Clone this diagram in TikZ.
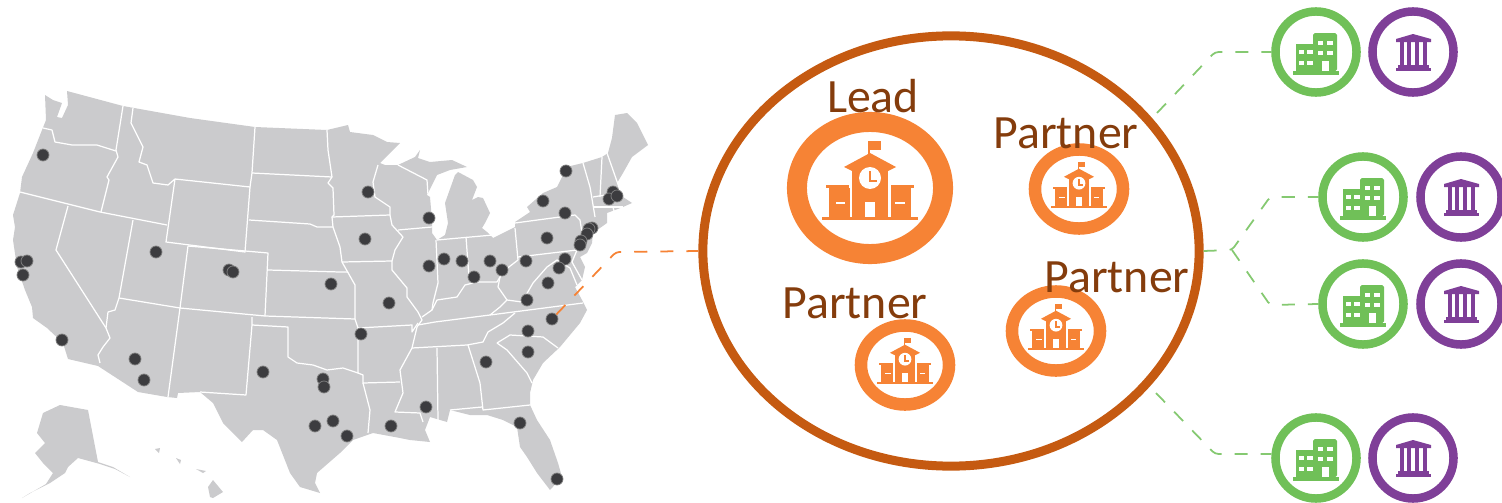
\documentclass[tikz,border=0pt]{standalone}
\usepackage{fontspec}
\setmainfont{Carlito}
\usetikzlibrary{shapes.geometric}
\definecolor{mapgrey}{HTML}{CBCBCD}
\definecolor{dotgrey}{HTML}{3C3C3F}
\definecolor{clusterbrown}{HTML}{C55A11}
\definecolor{labelbrown}{HTML}{843C0C}
\definecolor{schoolorange}{HTML}{F68335}
\definecolor{officegreen}{HTML}{70C058}
\definecolor{bankpurple}{HTML}{7F3F98}
\tikzset{
  dot/.style={circle,fill=dotgrey,draw=gray,line width=0.2pt,minimum size=0.12cm,inner sep=0pt},
  border/.style={draw=white,line width=0.35pt,line join=round},
  schoolring/.style={draw=schoolorange,ellipse,inner sep=0pt,minimum width=0.88cm,minimum height=0.79cm,line width=0.125cm},
  leadring/.style={draw=schoolorange,ellipse,inner sep=0pt,minimum width=1.46cm,minimum height=1.32cm,line width=0.2cm},
  officering/.style={draw=officegreen,circle,inner sep=0pt,minimum size=0.81cm,line width=0.085cm},
  bankring/.style={draw=bankpurple,circle,inner sep=0pt,minimum size=0.81cm,line width=0.085cm},
  greenlink/.style={draw=officegreen!85!white,line width=0.5pt,dash pattern=on 3.7pt off 3.7pt,rounded corners=1pt},
  orangelink/.style={draw=schoolorange,line width=0.5pt,dash pattern=on 3.7pt off 3.7pt,rounded corners=1pt},
  tag/.style={text=labelbrown,anchor=base,inner sep=0pt,font=\fontsize{13.6}{16}\selectfont},
  school/.pic={
    \fill[schoolorange] (-48,29) rectangle (48,32);
    \fill[schoolorange] (-41,0) rectangle (-20,29);
    \fill[schoolorange] (-44,-3) -- (-21,-3) -- (-21,0) -- (-44,0) -- cycle;
    \fill[schoolorange] (21,-3) -- (44,-3) -- (44,0) -- (21,0) -- cycle;
    \fill[schoolorange] (21,0) rectangle (41,29);
    \fill[schoolorange] (-18,-20) rectangle (18,29);
    \fill[schoolorange] (-26,-21) -- (0,-35) -- (26,-21) -- (18,-17) -- (-18,-17) -- cycle;
    \fill[schoolorange] (-2,-47) rectangle (0,-33);
    \fill[schoolorange] (-2,-47) rectangle (11,-38);
    \fill[white] (0,-10) circle (11);
    \fill[schoolorange] (-1,-17) rectangle (1,-8);
    \fill[schoolorange] (-1,-8) rectangle (7,-6);
    \fill[white] (-5,14) rectangle (5,29);
    \fill[white] (-34,14) rectangle (-25,16);
    \fill[white] (25,14) rectangle (35,16);
  },
  office/.pic={
    \fill[officegreen] (-20,-8) rectangle (-1,19);
    \fill[officegreen,rounded corners=0.5pt] (-3,-19) rectangle (21,19);
    \fill[officegreen] (-23,19) rectangle (23,23);
    \fill[white] (-17,-2) rectangle (-12,2);
    \fill[white] (-9,-2) rectangle (-3,2);
    \fill[white] (-17,9) rectangle (-12,13);
    \fill[white] (-9,9) rectangle (-3,13);
    \fill[white] (2,-11) rectangle (7,-7);
    \fill[white] (11,-11) rectangle (17,-7);
    \fill[white] (2,-1) rectangle (7,3);
    \fill[white] (11,-1) rectangle (17,3);
    \fill[white] (6,9) rectangle (13,19);
  },
  bank/.pic={
    \fill[bankpurple] (-17,-13) -- (0,-18) -- (18,-13) -- (18,-10) -- (-17,-10) -- cycle;
    \fill[bankpurple] (-13,-10) rectangle (-9,15);
    \fill[bankpurple] (-6,-10) rectangle (-2,15);
    \fill[bankpurple] (2,-10) rectangle (6,15);
    \fill[bankpurple] (10,-10) rectangle (14,15);
    \fill[bankpurple] (-15,13) rectangle (16,16);
    \fill[bankpurple] (-17,16) rectangle (18,19);
  }
}
\begin{document}
\begin{tikzpicture}[x=0.01cm,y=-0.01cm]
\useasboundingbox (0,0) rectangle (1502,503);

\fill[mapgrey] (45,95) -- (53,100) -- (62,103) -- (57,117) -- (62,118) -- (68,105) -- (67,91) -- (123,106) -- (190,118) -- (255,127) -- (327,130) -- (348,125) -- (350,132) -- (373,135) -- (387,142) -- (400,143) -- (380,163) -- (385,165) -- (398,165) -- (415,157) -- (420,150) -- (418,158) -- (430,162) -- (452,160) -- (467,167) -- (450,170) -- (437,175) -- (427,195) -- (430,197) -- (432,220) -- (432,233) -- (437,240) -- (445,235) -- (448,223) -- (445,203) -- (455,175) -- (458,172) -- (473,180) -- (477,187) -- (472,200) -- (478,197) -- (483,198) -- (490,213) -- (485,223) -- (482,228) -- (487,232) -- (493,238) -- (503,233) -- (515,227) -- (515,222) -- (530,212) -- (527,207) -- (543,193) -- (557,187) -- (562,177) -- (562,168) -- (583,163) -- (602,157) -- (608,153) -- (612,138) -- (615,115) -- (627,113) -- (637,123) -- (648,145) -- (632,157) -- (623,173) -- (617,183) -- (623,197) -- (632,203) -- (623,207) -- (607,213) -- (607,223) -- (593,233) -- (592,243) -- (587,253) -- (580,257) -- (585,267) -- (582,280) -- (575,287) -- (582,300) -- (587,310) -- (580,323) -- (560,347) -- (543,363) -- (533,380) -- (530,393) -- (530,405) -- (537,420) -- (550,440) -- (558,463) -- (562,477) -- (550,490) -- (537,473) -- (527,457) -- (520,447) -- (517,427) -- (503,420) -- (487,415) -- (470,415) -- (450,410) -- (447,422) -- (430,417) -- (425,430) -- (430,442) -- (410,440) -- (400,438) -- (373,433) -- (353,440) -- (340,453) -- (317,473) -- (315,483) -- (320,493) -- (300,487) -- (290,473) -- (277,440) -- (263,430) -- (253,430) -- (242,442) -- (223,423) -- (213,403) -- (200,392) -- (178,393) -- (177,398) -- (167,397) -- (138,392) -- (98,366) -- (68,359) -- (63,343) -- (47,328) -- (33,318) -- (32,307) -- (25,290) -- (17,267) -- (13,240) -- (15,227) -- (13,215) -- (20,193) -- (22,177) -- (33,153) -- (42,130) -- (46,120) -- cycle;
\fill[mapgrey] (43,413) -- (60,405) -- (88,410) -- (98,462) -- (113,467) -- (130,477) -- (115,469) -- (100,464) -- (78,458) -- (68,467) -- (65,473) -- (50,483) -- (30,493) -- (22,498) -- (46,484) -- (53,473) -- (43,463) -- (35,453) -- (45,443) -- (37,433) -- cycle;
\fill[mapgrey] (208,487) -- (213,480) -- (223,492) -- (213,498) -- (210,497) -- cycle;
\fill[mapgrey] (155,449) -- (160,448) -- (159,453) -- cycle;
\fill[mapgrey] (176,458) -- (181,460) -- (180,464) -- cycle;
\fill[mapgrey] (196,469) -- (206,471) -- (203,473) -- cycle;

\path[border] (43,128) -- (52,130) -- (55,142) -- (72,145) -- (97,145) -- (116,151);
\path[border] (123,106) -- (116,150) -- (118,157) -- (107,177) -- (109,180) -- (101,212);
\path[border] (20,192) -- (100,212) -- (167,225);
\path[border] (68,206) -- (56,250) -- (106,328);
\path[border] (133,220) -- (119,298) -- (115,310) -- (108,312) -- (106,328) -- (110,338) -- (103,347) -- (98,355) -- (100,363);
\path[border] (133,108) -- (131,123) -- (143,147) -- (139,162) -- (147,165) -- (153,183) -- (168,185) -- (175,179);
\path[border] (175,179) -- (250,187) -- (245,252) -- (166,242) -- (175,179);
\path[border] (255,127) -- (252,173) -- (250,187);
\path[border] (252,173) -- (332,177);
\path[border] (249,220) -- (310,224) -- (317,227) -- (333,227);
\path[border] (327,130) -- (328,150) -- (332,177) -- (328,183) -- (333,188) -- (334,215) -- (332,217) -- (333,227) -- (340,247) -- (342,262);
\path[border] (188,246) -- (268,253) -- (265,316);
\path[border] (188,246) -- (180,308) -- (168,397);
\path[border] (119,298) -- (180,308) -- (265,316) -- (355,319);
\path[border] (268,270) -- (340,272) -- (348,272);
\path[border] (252,317) -- (252,325) -- (246,395) -- (200,392);
\path[border] (252,325) -- (288,327) -- (288,357) -- (297,363) -- (313,365) -- (327,370) -- (343,368) -- (358,373);
\path[border] (332,217) -- (390,215);
\path[border] (342,262) -- (392,261);
\path[border] (342,262) -- (355,285) -- (355,319) -- (358,328) -- (412,325) -- (412,332) -- (418,323);
\path[border] (392,261) -- (392,270) -- (407,288) -- (407,297) -- (418,312) -- (422,320) -- (417,327) -- (412,348) -- (400,370) -- (403,393) -- (395,412) -- (420,413) -- (423,422);
\path[border] (390,215) -- (392,225) -- (403,237) -- (395,250) -- (392,261);
\path[border] (378,165) -- (373,182) -- (375,197) -- (390,207) -- (390,215);
\path[border] (398,230) -- (432,227);
\path[border] (398,165) -- (427,180) -- (428,195);
\path[border] (436,240) -- (438,283) -- (433,303) -- (432,310);
\path[border] (466,237) -- (469,277);
\path[border] (437,240) -- (493,235);
\path[border] (422,317) -- (432,310) -- (437,300) -- (457,297) -- (465,285) -- (477,282) -- (497,282) -- (500,277) -- (505,270) -- (518,260);
\path[border] (515,228) -- (518,260);
\path[border] (498,287) -- (507,300) -- (500,307) -- (490,315);
\path[border] (500,277) -- (498,287);
\path[border] (507,300) -- (522,302) -- (533,283) -- (547,267) -- (557,260) -- (570,268) -- (577,285);
\path[border] (518,257) -- (577,250) -- (572,262) -- (582,280);
\path[border] (515,223) -- (575,215) -- (580,220) -- (582,233) -- (577,250);
\path[border] (418,325) -- (435,322) -- (490,315) -- (583,303);
\path[border] (412,348) -- (467,345) -- (483,342) -- (488,332) -- (503,323) -- (515,313);
\path[border] (497,343) -- (510,335) -- (543,337) -- (558,348);
\path[border] (497,343) -- (507,350) -- (527,373) -- (532,383);
\path[border] (468,345) -- (480,383) -- (483,410) -- (530,405);
\path[border] (450,410) -- (482,407);
\path[border] (437,348) -- (438,420);
\path[border] (358,328) -- (358,373) -- (363,375) -- (363,383) -- (400,382);
\path[border] (363,383) -- (370,410) -- (368,433);
\path[border] (583,163) -- (590,187) -- (595,217);
\path[border] (602,157) -- (600,197);
\path[border] (607,153) -- (620,190);
\path[border] (593,197) -- (618,193);
\path[border] (593,207) -- (623,207);
\path[border] (613,207) -- (615,215);

\node[dot] (1) at (43,155) {};
\node[dot] (2) at (156,252) {};
\node[dot] (3) at (21,262) {};
\node[dot] (4) at (27,261) {};
\node[dot] (5) at (23,275) {};
\node[dot] (6) at (229,270) {};
\node[dot] (7) at (233,272) {};
\node[dot] (8) at (331,284) {};
\node[dot] (9) at (62,340) {};
\node[dot] (10) at (135,359) {};
\node[dot] (11) at (144,380) {};
\node[dot] (12) at (263,372) {};
\node[dot] (13) at (323,379) {};
\node[dot] (14) at (324,387) {};
\node[dot] (15) at (315,426) {};
\node[dot] (16) at (333,421) {};
\node[dot] (17) at (368,192) {};
\node[dot] (18) at (429,218) {};
\node[dot] (19) at (365,239) {};
\node[dot] (20) at (429,266) {};
\node[dot] (21) at (444,259) {};
\node[dot] (22) at (462,261) {};
\node[dot] (23) at (474,277) {};
\node[dot] (24) at (490,261) {};
\node[dot] (25) at (502,270) {};
\node[dot] (26) at (526,261) {};
\node[dot] (27) at (547,238) {};
\node[dot] (28) at (565,213) {};
\node[dot] (29) at (543,201) {};
\node[dot] (30) at (566,171) {};
\node[dot] (31) at (613,192) {};
\node[dot] (32) at (609,199) {};
\node[dot] (33) at (617,196) {};
\node[dot] (34) at (592,228) {};
\node[dot] (35) at (589,229) {};
\node[dot] (36) at (587,234) {};
\node[dot] (37) at (581,241) {};
\node[dot] (38) at (580,245) {};
\node[dot] (39) at (565,259) {};
\node[dot] (40) at (559,268) {};
\node[dot] (41) at (548,283) {};
\node[dot] (42) at (527,300) {};
\node[dot] (43) at (552,319) {};
\node[dot] (44) at (528,331) {};
\node[dot] (45) at (528,352) {};
\node[dot] (46) at (486,362) {};
\node[dot] (47) at (426,407) {};
\node[dot] (48) at (391,426) {};
\node[dot] (49) at (520,423) {};
\node[dot] (50) at (557,479) {};
\node[dot] (51) at (389,303) {};
\node[dot] (52) at (361,334) {};
\node[dot] (53) at (347,436) {};

\node[draw=clusterbrown,ellipse,inner sep=0pt,line width=0.09cm,minimum width=4.96cm,minimum height=4.3cm] (cluster) at (951,251) {};

\node[leadring] (lead) at (870,188) {};
\node[schoolring] (s1) at (1079,189) {};
\node[schoolring] (s2) at (905,365) {};
\node[schoolring] (s3) at (1056,331) {};
\pic (a0) at (870,188) {school};
\pic[scale=0.58] (a1) at (1079,189) {school};
\pic[scale=0.58] (a2) at (905,365) {school};
\pic[scale=0.58] (a3) at (1056,331) {school};

\node[tag] (t0) at (873,112) {Lead};
\node[tag] (t1) at (1066,148) {Partner};
\node[tag] (t2) at (855,318) {Partner};
\node[tag] (t3) at (1117,292) {Partner};

\node[officering] (g1) at (1316,52) {};
\node[bankring] (p1) at (1413,52) {};
\node[officering] (g2) at (1363,197) {};
\node[bankring] (p2) at (1461,197) {};
\node[officering] (g3) at (1363,304) {};
\node[bankring] (p3) at (1461,304) {};
\node[officering] (g4) at (1316,458) {};
\node[bankring] (p4) at (1413,458) {};
\pic (o1) at (1316,52) {office};
\pic (b1) at (1413,52) {bank};
\pic (o2) at (1363,197) {office};
\pic (b2) at (1461,197) {bank};
\pic (o3) at (1363,304) {office};
\pic (b3) at (1461,304) {bank};
\pic (o4) at (1316,458) {office};
\pic (b4) at (1413,458) {bank};

\coordinate (m0) at (616,252);
\coordinate (c1) at (1157,113);
\coordinate (e1) at (1215,52);
\coordinate (f0) at (1232,250);
\coordinate (e2) at (1270,197);
\coordinate (e3) at (1270,305);
\coordinate (c4) at (1156,393);
\coordinate (e4) at (1215,454);
\path[draw,orangelink] (43) -- (m0) -- (cluster.west);
\path[draw,greenlink] (c1) -- (e1) -- (g1.west);
\path[draw,greenlink] (cluster.east) -- (f0) -- (e2) -- (g2.west);
\path[draw,greenlink] (f0) -- (e3) -- (g3.west);
\path[draw,greenlink] (c4) -- (e4) -- (e4 -| g4.west);
\end{tikzpicture}
\end{document}
